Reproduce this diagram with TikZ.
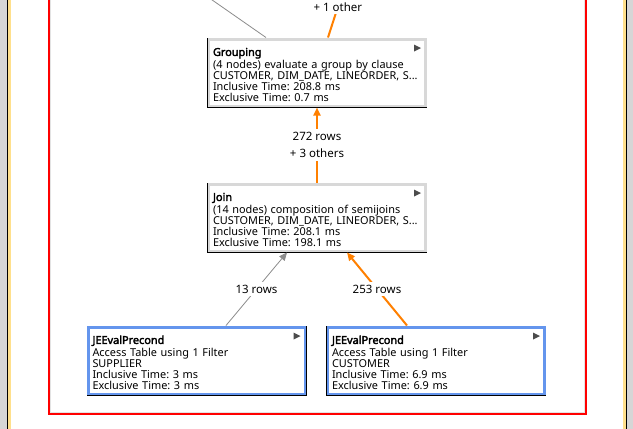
\documentclass[tikz,border=0pt]{standalone}
\usepackage{fontspec}
\setmainfont{Noto Sans}[AutoFakeBold=2.8]
\usetikzlibrary{arrows.meta}
\definecolor{edgeorange}{HTML}{FF8000}
\definecolor{edgegray}{HTML}{8C8C8C}
\definecolor{rimgray}{HTML}{D8D8D8}
\definecolor{rimblue}{HTML}{6495ED}
\definecolor{framered}{HTML}{FF0000}
\definecolor{paneyellow}{HTML}{FFE08C}
\definecolor{panegray}{HTML}{D6D6D6}
\frenchspacing
\newcommand\optitle[1]{\rule{0pt}{13pt}\textbf{#1}}

\begin{document}
\begin{tikzpicture}[x=1pt,y=-1pt,
  op/.style={draw=black, fill=white, line width=1pt, minimum width=219pt, minimum height=69pt, text width=208pt, align=left, inner xsep=5.5pt, inner ysep=0pt, font=\fontsize{10.9}{11}\selectfont},
  rim/.style={line width=2.5pt},
  tri/.style={fill=black!70},
  lbl/.style={fill=white, font=\fontsize{11.5}{11}\selectfont, inner sep=3pt, align=center},
  hot/.style={draw=edgeorange, line width=2pt},
  cold/.style={draw=edgegray, line width=0.8pt},
  tip/.style={-{Triangle[length=8pt,width=7pt]}}
]
\useasboundingbox (0,0) rectangle (633,429);
\clip (0,0) rectangle (633,429);

% ===== window pane =====
\fill[panegray] (0,0) rectangle (633,429);
\fill[white] (8,0) rectangle (625.7,429);
\fill[paneyellow] (8,0) rectangle (11,429);
\fill[paneyellow] (623,0) rectangle (625.7,429);
\draw[line width=1.3pt] (7.3,0) -- (7.3,429);
\draw[line width=1pt] (626.2,0) -- (626.2,429);

% ===== red frame =====
\draw[gray!22, line width=1pt] (50,-5) rectangle (584,412.8);
\draw[framered, line width=2pt] (48.5,-5) rectangle (585.5,414.3);

% ===== operators =====
\node[op] (group) at (317,72.5) {\optitle{Grouping}\\[2pt](4 nodes) evaluate a group by clause\\CUSTOMER, DIM\_DATE, LINEORDER, S...\\Inclusive Time: 208.8 ms\\Exclusive Time: 0.7 ms};
\draw[rim,rimgray] ([xshift=1.75pt,yshift=1.75pt]group.south west) rectangle ([xshift=-1.75pt,yshift=-1.75pt]group.north east);
\fill[tri] ([xshift=-13pt,yshift=-7pt]group.north east) -- ([xshift=-13pt,yshift=-14pt]group.north east) -- ([xshift=-6pt,yshift=-10.5pt]group.north east) -- cycle;

\node[op] (join) at (317,217.5) {\optitle{Join}\\[2pt](14 nodes) composition of semijoins\\CUSTOMER, DIM\_DATE, LINEORDER, S...\\Inclusive Time: 208.1 ms\\Exclusive Time: 198.1 ms};
\draw[rim,rimgray] ([xshift=1.75pt,yshift=1.75pt]join.south west) rectangle ([xshift=-1.75pt,yshift=-1.75pt]join.north east);
\fill[tri] ([xshift=-13pt,yshift=-7pt]join.north east) -- ([xshift=-13pt,yshift=-14pt]join.north east) -- ([xshift=-6pt,yshift=-10.5pt]join.north east) -- cycle;

\node[op] (supp) at (196.5,360.5) {\optitle{JEEvalPrecond}\\[2pt]Access Table using 1 Filter\\SUPPLIER\\Inclusive Time: 3 ms\\Exclusive Time: 3 ms};
\draw[rim,rimblue] ([xshift=1.75pt,yshift=1.75pt]supp.south west) rectangle ([xshift=-1.75pt,yshift=-1.75pt]supp.north east);
\fill[tri] ([xshift=-13pt,yshift=-7pt]supp.north east) -- ([xshift=-13pt,yshift=-14pt]supp.north east) -- ([xshift=-6pt,yshift=-10.5pt]supp.north east) -- cycle;

\node[op] (cust) at (436,360.5) {\optitle{JEEvalPrecond}\\[2pt]Access Table using 1 Filter\\CUSTOMER\\Inclusive Time: 6.9 ms\\Exclusive Time: 6.9 ms};
\draw[rim,rimblue] ([xshift=1.75pt,yshift=1.75pt]cust.south west) rectangle ([xshift=-1.75pt,yshift=-1.75pt]cust.north east);
\fill[tri] ([xshift=-13pt,yshift=-7pt]cust.north east) -- ([xshift=-13pt,yshift=-14pt]cust.north east) -- ([xshift=-6pt,yshift=-10.5pt]cust.north east) -- cycle;

% ===== edges =====
\coordinate (up1) at (205,-5);
\coordinate (up2) at (341.7,-5);
\draw[cold] (up1) -- ([xshift=-51pt]group.north);
\draw[hot] (up2) -- node[lbl,pos=0.28]{+ 1 other} ([xshift=11pt]group.north);

\draw[hot,tip] (join.north) -- node[lbl]{272 rows\\[6pt]+ 3 others} (group.south);
\draw[cold,tip] ([xshift=29.5pt]supp.north) -- node[lbl]{13 rows} ([xshift=-30pt]join.south);
\draw[hot,tip] ([xshift=-29pt]cust.north) -- node[lbl]{253 rows} ([xshift=30pt]join.south);

\end{tikzpicture}
\end{document}
